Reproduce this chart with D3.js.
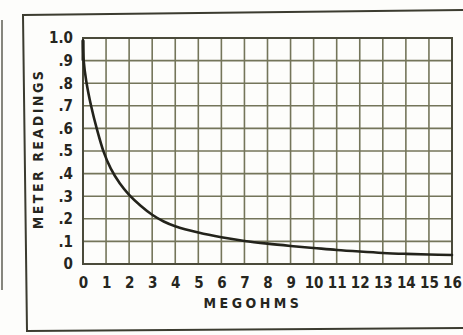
<!DOCTYPE html>
<html>
<head>
<meta charset="utf-8">
<script src="https://cdn.jsdelivr.net/npm/d3@7"></script>
<style>
  html, body { margin: 0; padding: 0; background: #fdfdfb; }
  svg { display: block; }
  text { font-family: "DejaVu Sans Condensed", "Liberation Sans Narrow", "DejaVu Sans", sans-serif; font-weight: bold; fill: #26261e; }
</style>
</head>
<body>
<svg id="chart" width="463" height="335"></svg>
<script>
// Resistance (megohms) against the meter reading it produces
const megohms  = [0, 0.03, 0.14, 0.35, 0.6, 0.9, 1.2, 1.6, 2, 2.5, 3, 3.5, 4, 5, 6, 7, 8, 9, 10, 11, 12, 13, 14, 15, 16];
const readings = [0.99, 0.9, 0.81, 0.7, 0.598, 0.495, 0.423, 0.356, 0.306, 0.258, 0.218, 0.188, 0.167, 0.139, 0.118, 0.102, 0.09, 0.08, 0.071, 0.062, 0.055, 0.049, 0.045, 0.042, 0.04];

const xTicks = d3.range(0, 17);
const yTicks = [0, 0.1, 0.2, 0.3, 0.4, 0.5, 0.6, 0.7, 0.8, 0.9, 1.0];
const yTickLabels = ["0", ".1", ".2", ".3", ".4", ".5", ".6", ".7", ".8", ".9", "1.0"];

const svg = d3.select("#chart");
const plot = { left: 83, top: 38, right: 452, bottom: 264 };

const x = d3.scaleLinear().domain([0, 16]).range([plot.left, plot.right]);
const y = d3.scaleLinear().domain([0, 1]).range([plot.bottom, plot.top]);

// outer frame (open on the right)
svg.append("path")
  .attr("d", "M463,10 L23,15 L27,331 L463,328")
  .attr("fill", "none").attr("stroke", "#3c3c30").attr("stroke-width", 2);
svg.append("line")
  .attr("x1", 2).attr("x2", 2).attr("y1", 20).attr("y2", 290)
  .attr("stroke", "#55554a").attr("stroke-width", 2).attr("opacity", 0.7);

// grid
const grid = svg.append("g").attr("stroke", "#74755a").attr("stroke-width", 1.6);
grid.selectAll("line.v").data(xTicks).join("line")
  .attr("x1", d => x(d)).attr("x2", d => x(d))
  .attr("y1", plot.top).attr("y2", plot.bottom);
grid.selectAll("line.h").data(yTicks).join("line")
  .attr("x1", plot.left).attr("x2", plot.right)
  .attr("y1", d => y(d)).attr("y2", d => y(d));
svg.append("rect")
  .attr("x", plot.left).attr("y", plot.top)
  .attr("width", plot.right - plot.left).attr("height", plot.bottom - plot.top)
  .attr("fill", "none").attr("stroke", "#4a4a3a").attr("stroke-width", 2);

// axes: tick labels only
const xAxis = d3.axisBottom(x).tickValues(xTicks).tickSize(0).tickPadding(0).tickFormat(d3.format("d"));
const gx = svg.append("g").attr("transform", `translate(0,${plot.bottom + 24})`).call(xAxis);
gx.select(".domain").remove();
gx.selectAll("text").attr("dy", 0).attr("font-size", 15).attr("font-family", null).attr("fill", null);

const yAxis = d3.axisLeft(y).tickValues(yTicks).tickSize(0).tickPadding(10)
  .tickFormat((d, i) => yTickLabels[i]);
const gy = svg.append("g").attr("transform", `translate(${plot.left},0)`).call(yAxis);
gy.select(".domain").remove();
gy.selectAll("text").attr("font-size", 15).attr("font-family", null).attr("fill", null);

// response curve
const line = d3.line()
  .x((d, i) => x(megohms[i]))
  .y(d => y(d))
  .curve(d3.curveCatmullRom.alpha(0.5));
svg.append("path")
  .datum(readings)
  .attr("d", line)
  .attr("fill", "none").attr("stroke", "#23231b").attr("stroke-width", 2.6)
  .attr("stroke-linecap", "round");
svg.append("line")
  .attr("x1", x(0)).attr("x2", x(0)).attr("y1", y(0.99)).attr("y2", y(0.9))
  .attr("stroke", "#23231b").attr("stroke-width", 3);

// axis titles
svg.append("text")
  .attr("x", 253).attr("y", 308)
  .attr("text-anchor", "middle").attr("font-size", 14).attr("letter-spacing", 3.5)
  .text("MEGOHMS");
svg.append("text")
  .attr("transform", "translate(43,149) rotate(-90)")
  .attr("text-anchor", "middle").attr("font-size", 14).attr("letter-spacing", 2.5)
  .text("METER READINGS");
</script>
</body>
</html>
